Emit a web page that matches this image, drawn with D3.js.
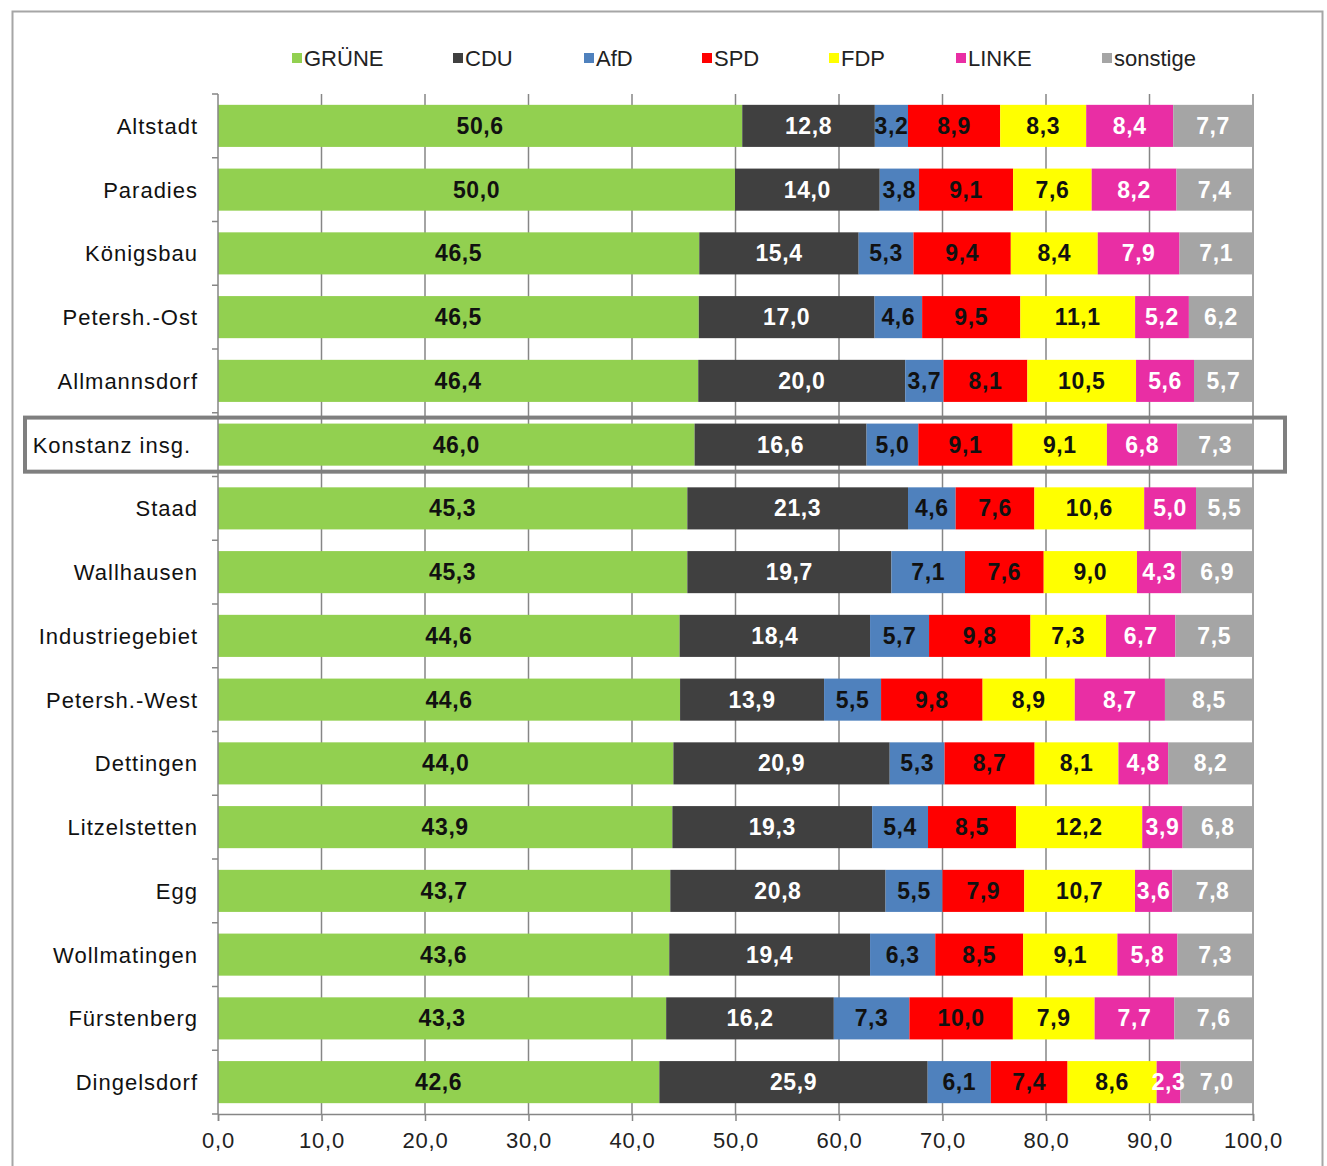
<!DOCTYPE html>
<html>
<head>
<meta charset="utf-8">
<script src="https://cdn.jsdelivr.net/npm/d3@7"></script>
<style>
  body { margin: 0; background: #fff; }
  #chart text { font-family: "Liberation Sans", Arial, sans-serif; }
  .cat-label { font-size: 22px; fill: #111; letter-spacing: 1px; }
  .val-label { font-size: 23px; font-weight: 700; letter-spacing: 0.6px; }
  .legend-label { font-size: 22px; fill: #222; }
  .tick-label { font-size: 22px; fill: #222; letter-spacing: 0.8px; }
</style>
</head>
<body>
<div id="chart"></div>
<script>
// ---- data ----
const parties = ["GRÜNE", "CDU", "AfD", "SPD", "FDP", "LINKE", "sonstige"];
const partyColors = ["#92D050", "#404040", "#4F81BD", "#FF0000", "#FFFF00", "#E92EA4", "#A5A5A5"];
const labelColors = ["#111", "#fff", "#111", "#111", "#111", "#fff", "#fff"];

const districts = [
  "Altstadt", "Paradies", "Königsbau", "Petersh.-Ost", "Allmannsdorf", "Konstanz insg.",
  "Staad", "Wallhausen", "Industriegebiet", "Petersh.-West", "Dettingen", "Litzelstetten",
  "Egg", "Wollmatingen", "Fürstenberg", "Dingelsdorf"
];

const gruene   = [50.6, 50.0, 46.5, 46.5, 46.4, 46.0, 45.3, 45.3, 44.6, 44.6, 44.0, 43.9, 43.7, 43.6, 43.3, 42.6];
const cdu      = [12.8, 14.0, 15.4, 17.0, 20.0, 16.6, 21.3, 19.7, 18.4, 13.9, 20.9, 19.3, 20.8, 19.4, 16.2, 25.9];
const afd      = [3.2, 3.8, 5.3, 4.6, 3.7, 5.0, 4.6, 7.1, 5.7, 5.5, 5.3, 5.4, 5.5, 6.3, 7.3, 6.1];
const spd      = [8.9, 9.1, 9.4, 9.5, 8.1, 9.1, 7.6, 7.6, 9.8, 9.8, 8.7, 8.5, 7.9, 8.5, 10.0, 7.4];
const fdp      = [8.3, 7.6, 8.4, 11.1, 10.5, 9.1, 10.6, 9.0, 7.3, 8.9, 8.1, 12.2, 10.7, 9.1, 7.9, 8.6];
const linke    = [8.4, 8.2, 7.9, 5.2, 5.6, 6.8, 5.0, 4.3, 6.7, 8.7, 4.8, 3.9, 3.6, 5.8, 7.7, 2.3];
const sonstige = [7.7, 7.4, 7.1, 6.2, 5.7, 7.3, 5.5, 6.9, 7.5, 8.5, 8.2, 6.8, 7.8, 7.3, 7.6, 7.0];

const xTicks = [0, 10, 20, 30, 40, 50, 60, 70, 80, 90, 100];
const highlighted = "Konstanz insg.";

// ---- build rows ----
const series = [gruene, cdu, afd, spd, fdp, linke, sonstige];
const rows = districts.map((name, i) => {
  const r = { name };
  parties.forEach((p, k) => r[p] = series[k][i]);
  return r;
});

const W = 1327, H = 1166;
const plot = { left: 218, right: 1253, top: 94, bottom: 1114 };

const svg = d3.select("#chart").append("svg")
  .attr("width", W).attr("height", H);

// outer frame
svg.append("rect")
  .attr("x", 12.5).attr("y", 11.5)
  .attr("width", 1310).attr("height", 1180)
  .attr("fill", "none").attr("stroke", "#a6a6a6").attr("stroke-width", 2);

const x = d3.scaleLinear().domain([0, 100]).range([plot.left, plot.right]);
const y = d3.scaleBand().domain(districts).range([plot.top, plot.bottom]).paddingInner(0.34).paddingOuter(0.17);

// Excel-style 100% stack
const stack = d3.stack().keys(parties).offset(d3.stackOffsetExpand);
const stacked = stack(rows);

const fmt = v => d3.format(".1f")(v).replace(".", ",");

// gridlines
svg.append("g").selectAll("line")
  .data(xTicks.filter(t => t > 0))
  .join("line")
  .attr("x1", d => x(d)).attr("x2", d => x(d))
  .attr("y1", plot.top).attr("y2", plot.bottom)
  .attr("stroke", "#868686").attr("stroke-width", 1.5);

// bars
const layers = svg.append("g").selectAll("g")
  .data(stacked)
  .join("g")
  .attr("fill", (d, i) => partyColors[i]);

layers.selectAll("rect")
  .data(d => d)
  .join("rect")
  .attr("x", d => x(d[0] * 100))
  .attr("width", d => x(d[1] * 100) - x(d[0] * 100))
  .attr("y", d => y(d.data.name))
  .attr("height", y.bandwidth());

// value labels
const lbl = svg.append("g");
stacked.forEach((layer, k) => {
  lbl.selectAll(null)
    .data(layer)
    .join("text")
    .attr("class", "val-label")
    .attr("x", d => x((d[0] + d[1]) * 50))
    .attr("y", d => y(d.data.name) + y.bandwidth() / 2 + 8)
    .attr("text-anchor", "middle")
    .attr("fill", labelColors[k])
    .text(d => fmt(d.data[layer.key]));
});

// left axis
svg.append("line")
  .attr("x1", plot.left).attr("x2", plot.left)
  .attr("y1", plot.top).attr("y2", plot.bottom)
  .attr("stroke", "#868686").attr("stroke-width", 1.5);
const bounds = districts.map(d => y(d) - y.step() * y.paddingInner() / 2).concat([plot.bottom]);
svg.append("g").selectAll("line")
  .data(bounds)
  .join("line")
  .attr("x1", plot.left - 6).attr("x2", plot.left)
  .attr("y1", d => d).attr("y2", d => d)
  .attr("stroke", "#868686").attr("stroke-width", 1.5);

svg.append("g").selectAll("text")
  .data(districts)
  .join("text")
  .attr("class", "cat-label")
  .attr("x", d => d === highlighted ? 191 : 198)
  .attr("y", d => y(d) + y.bandwidth() / 2 + 8)
  .attr("text-anchor", "end")
  .text(d => d);

// bottom axis
const xAxis = d3.axisBottom(x).tickValues(xTicks).tickSize(7).tickFormat(fmt).tickPadding(11);
svg.append("g")
  .attr("transform", `translate(0,${plot.bottom})`)
  .call(xAxis)
  .call(g => g.select(".domain").attr("stroke", "#868686").attr("stroke-width", 1.5))
  .call(g => g.selectAll(".tick line").attr("stroke", "#868686").attr("stroke-width", 1.5))
  .call(g => g.selectAll(".tick text").attr("class", "tick-label").attr("fill", "#222"));
svg.selectAll(".tick-label").attr("font-size", null).attr("font-family", null);
svg.select("g[font-size]").attr("font-size", null).attr("font-family", null);

// highlight box
svg.append("rect")
  .attr("x", 25).attr("y", y(highlighted) - 6)
  .attr("width", 1260).attr("height", y.bandwidth() + 12)
  .attr("fill", "none").attr("stroke", "#7f7f7f").attr("stroke-width", 4);

// legend
const legendX = [292, 453, 584, 702, 829, 956, 1102];
const leg = svg.append("g").selectAll("g")
  .data(parties)
  .join("g")
  .attr("transform", (d, i) => `translate(${legendX[i]},58)`);
leg.append("rect").attr("x", 0).attr("y", -5).attr("width", 10).attr("height", 10)
  .attr("fill", (d, i) => partyColors[i]);
leg.append("text").attr("class", "legend-label").attr("x", 12).attr("y", 8).text(d => d);
</script>
</body>
</html>
